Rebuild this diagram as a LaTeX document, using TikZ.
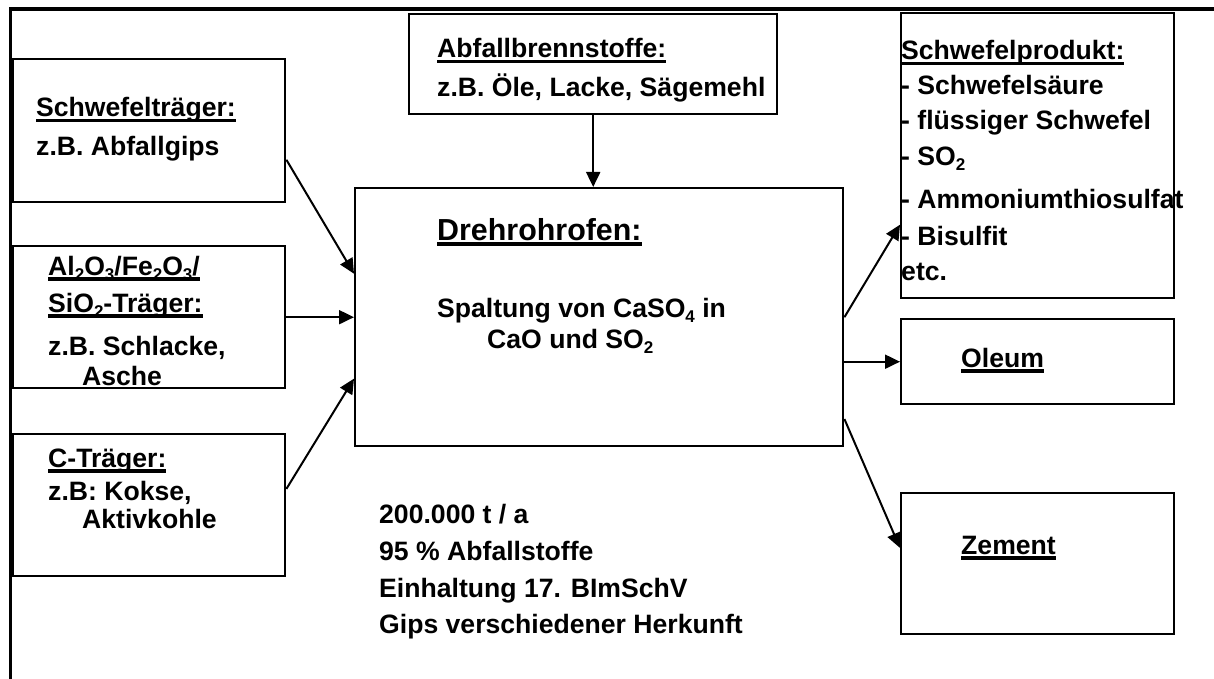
\documentclass[tikz,border=0pt]{standalone}
\usepackage{fontspec}
\setmainfont{Liberation Sans}
\usetikzlibrary{calc, arrows.meta}
\newsavebox{\ulbox}
\newcommand{\ulin}[1]{\sbox{\ulbox}{#1}\rlap{\rule[-5.5pt]{\wd\ulbox}{3.2pt}}\usebox{\ulbox}}
\newcommand{\subs}[1]{\raisebox{-5pt}{\fontsize{17}{17}\selectfont #1}}
\tikzset{
	x = 1pt,
	y = -1pt,
	line width = 2.4pt,
	>={Triangle[length=15pt, width=14pt]},
	box/.style={
		draw,
		line width=2.4pt,
		inner sep=0pt,
		anchor=north west
	},
	txt/.style={
		anchor=base west,
		inner sep=0pt,
		font=\bfseries\fontsize{26.6}{32}\selectfont
	},
	flow/.style={
		->,
		line width=2pt
	}
}

\begin{document}
\begin{tikzpicture}
		\useasboundingbox (0,0) rectangle (1214,679);
		\draw[line width=3.6pt] (1214,8.8) -- (10.5,8.8) -- (10.5,679);

		\node[box, minimum width=272pt, minimum height=143pt] (schw) at (12,58) {};
		\node[box, minimum width=272pt, minimum height=142pt] (oxid) at (12,245) {};
		\node[box, minimum width=272pt, minimum height=142pt] (kohl) at (12,433) {};
		\node[box, minimum width=368pt, minimum height=100pt] (abfall) at (408,13) {};
		\node[box, minimum width=488pt, minimum height=258pt] (ofen) at (354,187) {};
		\node[box, minimum width=273pt, minimum height=285pt] (sprod) at (900,12) {};
		\node[box, minimum width=273pt, minimum height=85pt] (oleum) at (900,318) {};
		\node[box, minimum width=273pt, minimum height=141pt] (zement) at (900,492) {};

		\node[txt] (schw1) at (36,117) {\ulin{Schwefelträger:}};
		\node[txt] (schw2) at (36,156) {z.B. Abfallgips};

		\node[txt] (oxid1) at (48,275) {\ulin{Al\subs{2}O\subs{3}/Fe\subs{2}O\subs{3}/}};
		\node[txt] (oxid2) at (48,312) {\ulin{SiO\subs{2}-Träger:}};
		\node[txt] (oxid3) at (48,355) {z.B. Schlacke,};
		\node[txt] (oxid4) at (82,385) {Asche};

		\node[txt] (kohl1) at (48,467) {\ulin{C-Träger:}};
		\node[txt] (kohl2) at (48,500) {z.B: Kokse,};
		\node[txt] (kohl3) at (82,528) {Aktivkohle};

		\node[txt] (abfall1) at (437,58) {\ulin{Abfallbrennstoffe:}};
		\node[txt] (abfall2) at (437,97) {z.B. Öle, Lacke, Sägemehl};

		\node[txt, font=\bfseries\fontsize{30.4}{36}\selectfont] (ofen1) at (437,240) {\ulin{Drehrohrofen:}};
		\node[txt] (ofen2) at (437,317) {Spaltung von CaSO\subs{4} in};
		\node[txt] (ofen3) at (487,348) {CaO und SO\subs{2}};

		\node[txt] (sprod1) at (901,60) {\ulin{Schwefelprodukt:}};
		\node[txt] (sprod2) at (901,95) {- Schwefelsäure};
		\node[txt] (sprod3) at (901,130) {- flüssiger Schwefel};
		\node[txt] (sprod4) at (901,166) {- SO\subs{2}};
		\node[txt] (sprod5) at (901,208) {- Ammoniumthiosulfat};
		\node[txt] (sprod6) at (901,245) {- Bisulfit};
		\node[txt] (sprod7) at (901,280) {etc.};

		\node[txt] (oleum1) at (961,367) {\ulin{Oleum}};
		\node[txt] (zement1) at (961,554) {\ulin{Zement}};

		\node[txt] (info1) at (379,523) {200.000 t / a};
		\node[txt] (info2) at (379,560) {95 \% Abfallstoffe};
		\node[txt] (info3) at (379,597) {Einhaltung 17. BImSchV};
		\node[txt] (info4) at (379,633) {Gips verschiedener Herkunft};

		\draw[flow] ($(schw.north east)!.70!(schw.south east)$) -- ($(ofen.north west)!.333!(ofen.south west)$);
		\draw[flow] (oxid.east) -- (oxid.east -| ofen.west);
		\draw[flow] ($(kohl.north east)!.387!(kohl.south east)$) -- ($(ofen.north west)!.736!(ofen.south west)$);
		\draw[flow] (abfall.south) -- (abfall.south |- ofen.north);
		\draw[flow] (ofen.east) -- ($(sprod.north west)!.74!(sprod.south west)$);
		\draw[flow] (oleum.west -| ofen.east) -- (oleum.west);
		\draw[flow] ($(ofen.north east)!.891!(ofen.south east)$) -- ($(zement.north west)!.39!(zement.south west)$);
	\end{tikzpicture}
\end{document}
